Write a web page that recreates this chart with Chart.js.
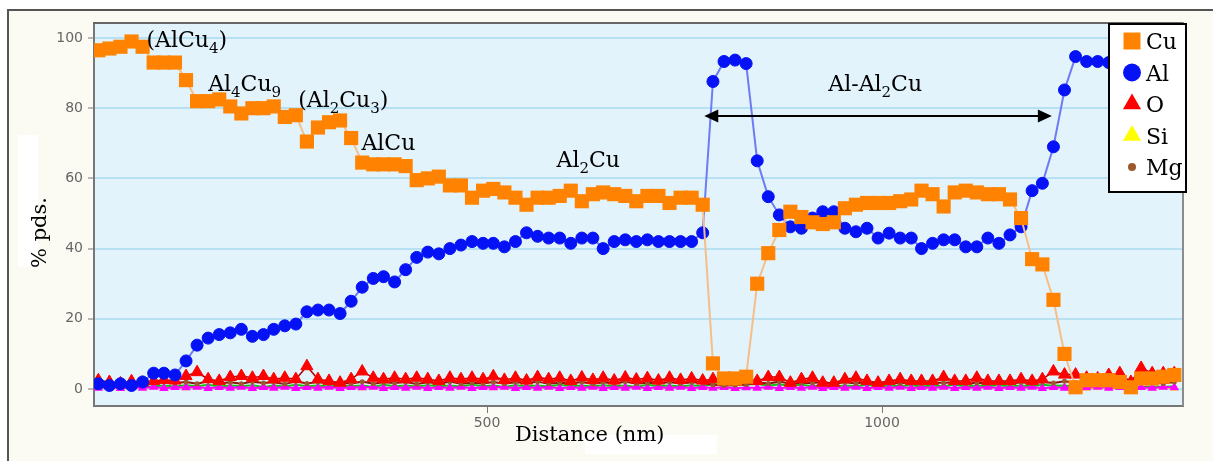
<!DOCTYPE html>
<html>
<head>
<meta charset="utf-8">
<script src="https://cdn.jsdelivr.net/npm/chart.js@4.4.1/dist/chart.umd.min.js"></script>
<style>
  html, body { margin: 0; padding: 0; background: #ffffff; }
</style>
</head>
<body>
<canvas id="profile" width="1213" height="461"></canvas>
<script>
// distance along the line scan (nm)
const distance = [
  8, 22, 36, 50, 64, 78, 91, 105, 119, 133,
  147, 161, 175, 189, 203, 217, 230, 244, 258, 272,
  286, 300, 314, 328, 342, 356, 369, 383, 397, 411,
  425, 439, 453, 467, 481, 495, 508, 522, 536, 550,
  564, 578, 592, 606, 620, 634, 647, 661, 675, 689,
  703, 717, 731, 745, 759, 773, 786, 800, 814, 828,
  842, 856, 870, 884, 898, 912, 925, 939, 953, 967,
  981, 995, 1009, 1023, 1037, 1050, 1064, 1078, 1092, 1106,
  1120, 1134, 1148, 1162, 1176, 1190, 1203, 1217, 1231, 1245,
  1259, 1273, 1287, 1301, 1315, 1328, 1342, 1356, 1370
];

// weight % per element
const cuValues = [
  96.5, 97, 97.5, 99, 97.5, 93, 93, 93, 88, 82,
  82, 82.5, 80.5, 78.5, 80, 80, 80.5, 77.5, 78, 70.5,
  74.5, 76, 76.5, 71.5, 64.5, 64, 64, 64, 63.5, 59.5,
  60, 60.5, 58, 58, 54.5, 56.5, 57, 56, 54.5, 52.5,
  54.5, 54.5, 55, 56.5, 53.5, 55.5, 56, 55.5, 55, 53.5,
  55, 55, 53, 54.5, 54.5, 52.5, 7.3, 3, 3, 3.5,
  30, 38.7, 45.3, 50.5, 49, 47.5, 47, 47.5, 51.5, 52.5,
  53, 53, 53, 53.5, 54, 56.5, 55.5, 52, 56, 56.5,
  56, 55.5, 55.5, 54, 48.7, 37, 35.5, 25.4, 10, 0.5,
  2.5, 2.5, 2.5, 2, 0.5, 3, 3, 3.5, 4
];
const alValues = [
  1.5, 1, 1.5, 1, 2, 4.5, 4.5, 4, 8, 12.5,
  14.5, 15.5, 16, 17, 15, 15.5, 17, 18, 18.5, 22,
  22.5, 22.5, 21.5, 25, 29, 31.5, 32, 30.5, 34, 37.5,
  39, 38.5, 40, 41, 42, 41.5, 41.5, 40.5, 42, 44.5,
  43.5, 43, 43, 41.5, 43, 43, 40, 42, 42.5, 42,
  42.5, 42, 42, 42, 42, 44.5, 87.6, 93.3, 93.7, 92.7,
  65, 54.8, 49.6, 46.2, 45.8, 48.7, 50.5, 50.5, 45.8, 44.8,
  45.8, 43, 44.4, 43, 43, 40, 41.5, 42.5, 42.5, 40.5,
  40.5, 43, 41.5, 43.9, 46.2, 56.5, 58.6, 69, 85.2, 94.7,
  93.3, 93.3, 93, 93, 93, 92.5, 93, 93, 93
];
const oValues = [
  2.5, 2.0, 1.6, 2.2, 1.8, 2.3, 2.6, 2.4, 3.7, 4.8,
  2.8, 2.3, 3.4, 3.7, 3.2, 3.7, 2.8, 3.2, 2.8, 6.5,
  2.8, 2.3, 1.8, 2.8, 5.0, 3.2, 2.8, 3.2, 2.8, 3.2,
  2.8, 2.3, 3.2, 2.8, 3.2, 2.8, 3.6, 2.6, 3.2, 2.4,
  3.4, 2.8, 3.2, 2.3, 3.3, 2.6, 3.2, 2.4, 3.3, 2.7,
  3.1, 2.4, 3.2, 2.6, 3.0, 2.4, 2.8, 2.6, 2.5, 2.8,
  2.3, 3.4, 3.4, 1.8, 2.8, 3.2, 1.8, 1.8, 2.8, 3.2,
  2.3, 1.8, 2.3, 2.8, 2.3, 2.3, 2.3, 3.4, 2.3, 2.3,
  3.2, 2.3, 2.3, 2.3, 2.8, 2.3, 2.8, 5.0, 4.1, 4.1,
  3.2, 3.0, 4.0, 4.5, 2.0, 6.0, 4.5, 4.5, 4.5
];
const siValues = [
  0.2, 0.4, 0.1, 0.3, 0.2, 0.4, 0.1, 0.3, 0.2, 0.4,
  0.1, 0.3, 0.2, 0.4, 0.1, 0.3, 0.2, 0.4, 0.1, 0.3,
  0.2, 0.4, 0.1, 0.3, 0.2, 0.4, 0.1, 0.3, 0.2, 0.4,
  0.1, 0.3, 0.2, 0.4, 0.1, 0.3, 0.2, 0.4, 0.1, 0.3,
  0.2, 0.4, 0.1, 0.3, 0.2, 0.4, 0.1, 0.3, 0.2, 0.4,
  0.1, 0.3, 0.2, 0.4, 0.1, 0.3, 0.2, 0.4, 0.1, 0.3,
  0.2, 0.4, 0.1, 0.3, 0.2, 0.4, 0.1, 0.3, 0.2, 0.4,
  0.1, 0.3, 0.2, 0.4, 0.1, 0.3, 0.2, 0.4, 0.1, 0.3,
  0.2, 0.4, 0.1, 0.3, 0.2, 0.4, 0.1, 0.3, 0.2, 0.4,
  0.1, 0.3, 0.2, 0.4, 0.1, 0.3, 0.2, 0.4, 0.1
];
const mgValues = [
  1.6, 1.9, 1.4, 2.0, 1.5, 1.8, 2.1, 1.7, 2.0, 1.5,
  2.2, 1.6, 1.9, 1.5, 2.1, 1.7, 1.9, 1.4, 2.2, 1.6,
  2.0, 1.5, 1.8, 1.6, 2.1, 1.5, 1.9, 1.7, 2.0, 1.4,
  1.9, 1.6, 2.1, 1.5, 1.8, 1.6, 2.0, 1.5, 1.9, 1.7,
  2.1, 1.5, 1.8, 1.6, 2.0, 1.4, 1.9, 1.6, 2.1, 1.5,
  1.8, 1.6, 2.0, 1.5, 1.9, 1.7, 1.2, 1.0, 1.1, 1.3,
  1.9, 1.6, 2.1, 1.5, 1.8, 1.7, 2.0, 1.5, 1.9, 1.6,
  2.1, 1.5, 1.8, 1.6, 2.0, 1.5, 1.9, 1.7, 2.0, 1.5,
  1.8, 1.6, 2.1, 1.5, 1.9, 1.6, 2.0, 1.7, 2.2, 1.8,
  1.9, 1.6, 2.0, 1.5, 1.8, 1.7, 1.9, 1.6, 2.0
];
// two more traces are plotted but sit outside the visible legend box
const greenValues = [
  0.5, 0.8, 0.4, 0.9, 0.6, 0.8, 1.0, 0.7, 1.1, 0.8,
  1.2, 0.7, 1.0, 0.8, 1.1, 0.6, 1.0, 0.7, 1.2, 0.8,
  1.0, 0.7, 1.1, 0.8, 1.0, 0.6, 1.2, 0.8, 1.0, 0.7,
  1.1, 0.8, 1.0, 0.7, 1.2, 0.8, 1.0, 0.6, 1.1, 0.8,
  1.0, 0.7, 1.2, 0.8, 1.0, 0.7, 1.1, 0.8, 1.0, 0.6,
  1.2, 0.8, 1.0, 0.7, 1.1, 0.8, 1.4, 1.2, 1.6, 1.3,
  1.4, 1.0, 1.3, 0.9, 1.2, 0.8, 1.1, 0.7, 1.0, 0.8,
  1.2, 0.7, 1.0, 0.8, 1.1, 0.7, 1.0, 0.8, 1.2, 0.7,
  1.0, 0.8, 1.1, 0.7, 1.0, 0.8, 1.2, 0.9, 1.0, 0.6,
  0.8, 0.5, 0.9, 0.6, 0.8, 0.5, 0.7, 0.6, 0.8
];
const magentaValues = [
  0.3, 0.6, 0.2, 0.5, 0.3, 0.6, 0.2, 0.5, 0.4, 0.6,
  0.2, 0.5, 0.3, 0.6, 0.2, 0.5, 0.3, 0.6, 0.2, 0.5,
  0.3, 0.6, 0.2, 0.5, 0.4, 0.6, 0.2, 0.5, 0.3, 0.6,
  0.2, 0.5, 0.3, 0.6, 0.2, 0.5, 0.4, 0.6, 0.2, 0.5,
  0.3, 0.6, 0.2, 0.5, 0.3, 0.6, 0.2, 0.5, 0.3, 0.6,
  0.2, 0.5, 0.3, 0.6, 0.2, 0.5, 0.3, 0.5, 0.2, 0.4,
  0.3, 0.6, 0.2, 0.5, 0.3, 0.6, 0.2, 0.5, 0.3, 0.6,
  0.2, 0.5, 0.3, 0.6, 0.2, 0.5, 0.3, 0.6, 0.2, 0.5,
  0.3, 0.6, 0.2, 0.5, 0.3, 0.6, 0.2, 0.5, 0.3, 0.6,
  0.4, 0.6, 0.3, 0.5, 0.2, 0.5, 0.3, 0.6, 0.4
];

const xTicks = [500, 1000];
const yTicks = [0, 20, 40, 60, 80, 100];
const legendLabels = ["Cu", "Al", "O", "Si", "Mg"];

// phase annotations, "_" marks a subscript character
const phaseLabels = ["(AlCu_4)", "Al_4Cu_9", "(Al_2Cu_3)", "AlCu", "Al_2Cu", "Al-Al_2Cu"];
const phaseX = [69, 147, 261, 341, 588, 932];
const phaseY = [97.5, 85, 80.4, 68.1, 63.3, 85];
const arrowFrom = 775;
const arrowTo = 1215;
const arrowLevel = 77.8;

const SERIF = '"DejaVu Serif", serif';

function toPoints(values) {
  return distance.map((d, i) => ({ x: d, y: values[i] }));
}

function drawRichText(ctx, text, x, y) {
  let cx = x;
  for (let k = 0; k < text.length; k++) {
    let ch = text[k];
    let sub = false;
    if (ch === "_") {
      ch = text[++k];
      sub = true;
    }
    ctx.font = (sub ? "15px " : "22px ") + SERIF;
    ctx.fillText(ch, cx, sub ? y + 6 : y);
    cx += ctx.measureText(ch).width;
  }
}

const backdrop = {
  id: "backdrop",
  beforeDraw(chart) {
    const { ctx, chartArea: a, width, height } = chart;
    ctx.save();
    ctx.fillStyle = "#ffffff";
    ctx.fillRect(0, 0, width, height);
    ctx.fillStyle = "#fbfbf3";
    ctx.fillRect(8, 10, width - 8, height - 10);
    ctx.fillStyle = "#555555";
    ctx.fillRect(7, 9, 2, height - 9);
    ctx.fillRect(7, 9, width - 7, 2);
    // pasted-over patches behind the axis titles
    ctx.fillStyle = "#ffffff";
    ctx.fillRect(18, 135, 20, 132);
    ctx.fillRect(585, 435, 132, 19);
    ctx.fillStyle = "#e2f3fb";
    ctx.fillRect(a.left, a.top, a.right - a.left, a.bottom - a.top);
    ctx.restore();
  },
  afterDraw(chart) {
    const { ctx, chartArea: a } = chart;
    ctx.save();
    // plot frame top / right
    ctx.fillStyle = "#666666";
    ctx.fillRect(a.left - 1, a.top - 1, a.right - a.left + 1, 2);
    ctx.fillStyle = "#8c8c8c";
    ctx.fillRect(a.right - 1, a.top - 1, 2, a.bottom - a.top + 1);

    // axis titles
    ctx.fillStyle = "#000000";
    ctx.font = "21px " + SERIF;
    ctx.textBaseline = "alphabetic";
    ctx.fillText("Distance (nm)", 515, 441);
    ctx.save();
    ctx.translate(46, 268);
    ctx.rotate(-Math.PI / 2);
    ctx.fillText("% pds.", 0, 0);
    ctx.restore();

    // phase labels and arrow, placed through the scales
    const xs = chart.scales.x;
    const ys = chart.scales.y;
    ctx.fillStyle = "#000000";
    phaseLabels.forEach((t, i) => {
      drawRichText(ctx, t, xs.getPixelForValue(phaseX[i]), ys.getPixelForValue(phaseY[i]));
    });
    const x1 = xs.getPixelForValue(arrowFrom);
    const x2 = xs.getPixelForValue(arrowTo);
    const ay = Math.round(ys.getPixelForValue(arrowLevel));
    ctx.strokeStyle = "#000000";
    ctx.lineWidth = 2;
    ctx.beginPath();
    ctx.moveTo(x1 + 6, ay);
    ctx.lineTo(x2 - 6, ay);
    ctx.stroke();
    ctx.beginPath();
    ctx.moveTo(x1, ay);
    ctx.lineTo(x1 + 14, ay - 6.5);
    ctx.lineTo(x1 + 14, ay + 6.5);
    ctx.closePath();
    ctx.moveTo(x2, ay);
    ctx.lineTo(x2 - 14, ay - 6.5);
    ctx.lineTo(x2 - 14, ay + 6.5);
    ctx.closePath();
    ctx.fill();

    // legend box
    const lx = a.right - 74;
    const ly = a.top + 1;
    const lw = 77;
    const lh = 168;
    ctx.fillStyle = "#ffffff";
    ctx.fillRect(lx, ly, lw, lh);
    ctx.strokeStyle = "#000000";
    ctx.lineWidth = 2;
    ctx.strokeRect(lx, ly, lw, lh);
    const legendSize = { rect: 12, circle: 9, triangle: 10.5, dot: 4 };
    legendLabels.forEach((label, i) => {
      const ds = chart.data.datasets.find((d) => d.label === label);
      const cy = ly + 17 + i * 31.5;
      const style = ds.pointStyle;
      const r = label === "Mg" ? legendSize.dot : legendSize[style];
      ctx.fillStyle = ds.pointBackgroundColor;
      ctx.strokeStyle = ds.pointBackgroundColor;
      ctx.lineWidth = 1;
      if (Chart.helpers && Chart.helpers.drawPoint) {
        Chart.helpers.drawPoint(ctx, { pointStyle: style, radius: r, rotation: 0, borderWidth: 0 }, lx + 23, cy);
      }
      ctx.fillStyle = "#000000";
      ctx.font = "22px " + SERIF;
      ctx.textBaseline = "alphabetic";
      ctx.fillText(label, lx + 37, cy + 8);
    });
    ctx.restore();
  },
};

const tickFont = { family: '"DejaVu Sans", sans-serif', size: 14 };

new Chart(document.getElementById("profile"), {
  type: "line",
  data: {
    datasets: [
      {
        label: "Cu",
        data: toPoints(cuValues),
        borderColor: "#f6be88",
        borderWidth: 2,
        pointStyle: "rect",
        pointRadius: 10,
        pointBackgroundColor: "#ff8300",
        pointBorderColor: "#ff8300",
        pointBorderWidth: 0,
        clip: 0,
      },
      {
        label: "Al",
        data: toPoints(alValues),
        borderColor: "#6d7bf4",
        borderWidth: 2,
        pointStyle: "circle",
        pointRadius: 6,
        pointBackgroundColor: "#0612f6",
        pointBorderColor: "#0612f6",
        pointBorderWidth: 1,
        clip: 0,
      },
      {
        label: "O",
        data: toPoints(oValues),
        borderColor: "#b00000",
        borderWidth: 1.5,
        pointStyle: "triangle",
        pointRadius: 7,
        pointBackgroundColor: "#ff0000",
        pointBorderColor: "#ff0000",
        pointBorderWidth: 1,
        clip: 0,
      },
      {
        label: "Si",
        data: toPoints(siValues),
        borderColor: "#e6e600",
        borderWidth: 1,
        pointStyle: "triangle",
        pointRadius: 4,
        pointBackgroundColor: "#ffff00",
        pointBorderColor: "#ffff00",
        pointBorderWidth: 0,
        order: 3,
        clip: 0,
      },
      {
        label: "Mg",
        data: toPoints(mgValues),
        borderColor: "#8b1212",
        borderWidth: 2,
        pointStyle: "circle",
        pointRadius: 2.5,
        pointBackgroundColor: "#9c5a2c",
        pointBorderColor: "#8b1212",
        pointBorderWidth: 0,
        clip: 0,
      },
      {
        label: "",
        data: toPoints(magentaValues),
        borderColor: "#ff00ff",
        borderWidth: 2,
        pointStyle: "triangle",
        pointRadius: 5.5,
        pointBackgroundColor: "#ff00ff",
        pointBorderWidth: 0,
        order: 1,
        clip: 0,
      },
      {
        label: "",
        data: toPoints(greenValues),
        borderColor: "#12c412",
        borderWidth: 2,
        pointRadius: 1.5,
        pointBackgroundColor: "#12c412",
        pointBorderWidth: 0,
        order: 2,
        clip: 0,
      },
    ],
  },
  options: {
    responsive: false,
    animation: false,
    devicePixelRatio: 1,
    layout: { padding: { left: 0, top: 23, right: 30, bottom: 0 } },
    plugins: {
      legend: { display: false },
      tooltip: { enabled: false },
    },
    scales: {
      x: {
        type: "linear",
        min: 2.5,
        max: 1381,
        afterBuildTicks: (scale) => {
          scale.ticks = xTicks.map((v) => ({ value: v }));
        },
        afterFit: (scale) => {
          scale.height = 55;
        },
        ticks: { color: "#666666", font: tickFont, padding: 2, maxRotation: 0, callback: (v) => String(v) },
        grid: { drawOnChartArea: false, tickLength: 7, tickColor: "#777777", tickWidth: 1 },
        border: { color: "#777777", width: 2 },
      },
      y: {
        type: "linear",
        min: -4.84,
        max: 104.27,
        afterBuildTicks: (scale) => {
          scale.ticks = yTicks.map((v) => ({ value: v }));
        },
        afterFit: (scale) => {
          scale.width = 94;
        },
        ticks: { color: "#666666", font: tickFont, padding: 5, callback: (v) => String(v) },
        grid: { color: "#b7e0f2", lineWidth: 2, tickColor: "#777777", tickWidth: 1, tickLength: 6 },
        border: { color: "#777777", width: 2 },
      },
    },
  },
  plugins: [backdrop],
});
</script>
</body>
</html>
